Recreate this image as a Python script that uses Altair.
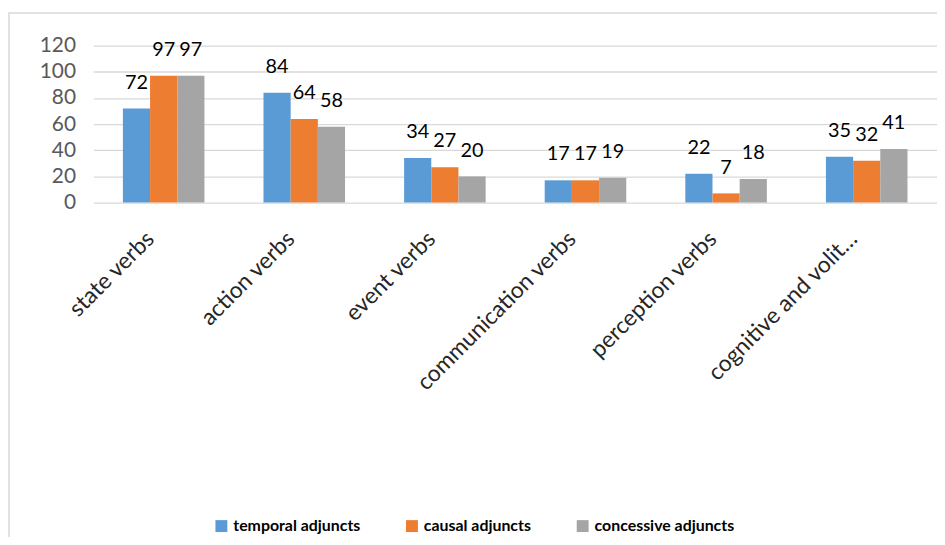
import altair as alt
import pandas as pd

categories = ["state verbs", "action verbs", "event verbs", "communication verbs",
              "perception verbs", "cognitive and volit…"]
series = ["temporal adjuncts", "causal adjuncts", "concessive adjuncts"]
temporal = [72, 84, 34, 17, 22, 35]
causal = [97, 64, 27, 17, 7, 32]
concessive = [97, 58, 20, 19, 18, 41]
y_ticks = [0, 20, 40, 60, 80, 100, 120]
colors = ["#5B9BD5", "#ED7D31", "#A5A5A5"]

rows = []
for s, vals in zip(series, [temporal, causal, concessive]):
    for c, v in zip(categories, vals):
        rows.append({"category": c, "series": s, "value": v})
df = pd.DataFrame(rows)

FONT = "Lato"

x = alt.X("category:N", sort=categories, title=None,
          scale=alt.Scale(paddingInner=0.42, paddingOuter=0.21),
          axis=alt.Axis(labelAngle=-45, labelAlign="right", labelBaseline="top",
                        labelPadding=25, labelOffset=-21, labelFontSize=23,
                        labelColor="#262626", labelFont=FONT, domain=False,
                        ticks=False, grid=False, labelLimit=400,
                        labelOverlap=False))
y = alt.Y("value:Q", title=None,
          scale=alt.Scale(domain=[0, 120]),
          axis=alt.Axis(values=y_ticks, labelFontSize=21,
                        labelColor="#595959", labelFont=FONT, labelPadding=18,
                        labelOverlap=False,
                        domain=False, ticks=False, grid=True,
                        gridColor="#d9d9d9", gridWidth=1.3))
xo = alt.XOffset("series:N", sort=series)

bars = alt.Chart(df).mark_bar().encode(
    x=x, y=y, xOffset=xo,
    color=alt.Color("series:N", sort=series,
                    scale=alt.Scale(domain=series, range=colors),
                    legend=alt.Legend(orient="none", legendX=121, legendY=476,
                                      direction="horizontal", title=None,
                                      symbolType="square", symbolSize=144,
                                      symbolStrokeWidth=0, labelFont=FONT,
                                      labelFontSize=16, labelFontWeight="bold",
                                      labelColor="#000000", labelOffset=4,
                                      columnPadding=44, labelLimit=300))
)

labels = alt.Chart(df).mark_text(baseline="alphabetic", dy=-20, fontSize=20,
                                 font=FONT, color="#000000").encode(
    x=x, y=y, xOffset=xo,
    text="value:Q"
)

border = alt.Chart(alt.Data(values=[{}])).mark_rect(
    filled=False, stroke="#d9d9d9", strokeWidth=1.5).encode(
    x=alt.value(-85), x2=alt.value(950), y=alt.value(-33), y2=alt.value(600)
)

chart = alt.layer(border, bars, labels).properties(
    width=850, height=158,
    padding={"left": 86, "top": 36, "right": 0, "bottom": 335},
    autosize=alt.AutoSizeParams(type="none"),
).configure_view(stroke=None)

chart.save("out.html", embed_options={"renderer": "svg", "actions": False})
